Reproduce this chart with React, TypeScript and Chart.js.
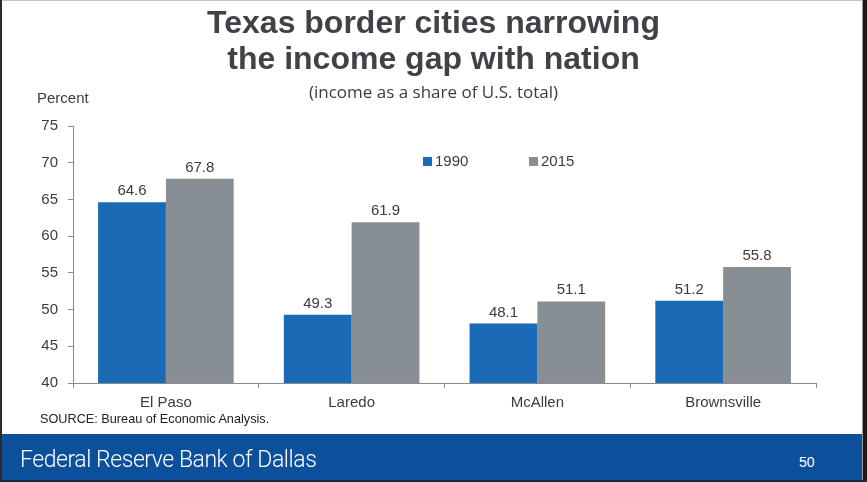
import React, { useEffect, useRef } from "react";
import { Chart, registerables } from "chart.js";

Chart.register(...registerables);

const categories = ["El Paso", "Laredo", "McAllen", "Brownsville"];
const values1990 = [64.6, 49.3, 48.1, 51.2];
const values2015 = [67.8, 61.9, 51.1, 55.8];
const seriesNames = ["1990", "2015"];
const yMin = 40;
const yMax = 75;
const yStep = 5;

const BLUE = "#1a6ab5";
const GRAY = "#878f94";
const TEXT = "#3c3c3c";
const FONT = "'Liberation Sans', Arial, sans-serif";

const valueLabelPlugin = {
  id: "valueLabels",
  afterDatasetsDraw(chart: any) {
    const ctx = chart.ctx;
    ctx.save();
    ctx.font = `15px ${FONT}`;
    ctx.fillStyle = TEXT;
    ctx.textAlign = "center";
    ctx.textBaseline = "alphabetic";
    chart.data.datasets.forEach((ds: any, di: number) => {
      const meta = chart.getDatasetMeta(di);
      meta.data.forEach((bar: any, i: number) => {
        ctx.fillText(ds.data[i].toFixed(1), bar.x, bar.y - 7);
      });
    });
    ctx.restore();
  },
};

const legendPlugin = {
  id: "customLegend",
  afterDraw(chart: any) {
    const ctx = chart.ctx;
    ctx.save();
    ctx.font = `15px ${FONT}`;
    ctx.textBaseline = "middle";
    ctx.textAlign = "left";
    const items = [
      { x: 423, color: BLUE, label: seriesNames[0] },
      { x: 529, color: GRAY, label: seriesNames[1] },
    ];
    const y = 162;
    items.forEach((it) => {
      ctx.fillStyle = it.color;
      ctx.fillRect(it.x, y - 5, 9, 9);
      ctx.fillStyle = TEXT;
      ctx.fillText(it.label, it.x + 12, y);
    });
    ctx.restore();
  },
};

function BarChart() {
  const ref = useRef<HTMLCanvasElement | null>(null);
  useEffect(() => {
    if (!ref.current) return;
    const chart = new Chart(ref.current, {
      type: "bar",
      data: {
        labels: categories,
        datasets: [
          {
            label: seriesNames[0],
            data: values1990,
            backgroundColor: BLUE,
            borderWidth: 0,
            categoryPercentage: 0.73,
            barPercentage: 1.0,
          },
          {
            label: seriesNames[1],
            data: values2015,
            backgroundColor: GRAY,
            borderWidth: 0,
            categoryPercentage: 0.73,
            barPercentage: 1.0,
          },
        ],
      },
      options: {
        responsive: false,
        animation: false,
        layout: { padding: { top: 126, right: 51, left: 0, bottom: 0 } },
        plugins: {
          legend: { display: false },
          tooltip: { enabled: false },
          title: { display: false },
        },
        scales: {
          x: {
            grid: {
              drawOnChartArea: false,
              drawTicks: true,
              tickLength: 5,
              color: "#8a8a8a",
              offset: true,
            },
            border: { color: "#8a8a8a", width: 1 },
            ticks: {
              font: { family: FONT, size: 15 },
              color: TEXT,
              padding: 6,
            },
            afterFit: (s: any) => {
              s.height = 51;
            },
          },
          y: {
            min: yMin,
            max: yMax,
            grid: {
              drawOnChartArea: false,
              drawTicks: true,
              tickLength: 5,
              color: "#8a8a8a",
            },
            border: { color: "#8a8a8a", width: 1 },
            ticks: {
              stepSize: yStep,
              font: { family: FONT, size: 15 },
              color: TEXT,
              padding: 10,
            },
            afterFit: (s: any) => {
              s.width = 73;
            },
          },
        },
      },
      plugins: [valueLabelPlugin, legendPlugin],
    });
    return () => chart.destroy();
  }, []);
  return (
    <canvas
      ref={ref}
      width={867}
      height={434}
      style={{ position: "absolute", left: 0, top: 0, width: 867, height: 434 }}
    />
  );
}

export default function App() {
  useEffect(() => {
    document.body.style.margin = "0";
  }, []);
  const abs = (s: React.CSSProperties): React.CSSProperties => ({ position: "absolute", ...s });
  return (
    <div style={{ position: "relative", width: 867, height: 482, background: "#fff", overflow: "hidden" }}>
      <BarChart />
      <div
        style={abs({
          left: 0,
          top: 4,
          width: 867,
          textAlign: "center",
          fontFamily: FONT,
          fontWeight: 700,
          fontSize: 32,
          lineHeight: "36px",
          color: "#3f4347",
        })}
      >
        Texas border cities narrowing
        <br />
        the income gap with nation
      </div>
      <div
        style={abs({
          left: 0,
          top: 80,
          width: 867,
          textAlign: "center",
          fontFamily: "'Open Sans', 'Noto Sans', sans-serif",
          fontSize: 17,
          color: "#3c3c3c",
        })}
      >
        (income as a share of U.S. total)
      </div>
      <div style={abs({ left: 37, top: 89, fontFamily: FONT, fontSize: 15, color: TEXT })}>Percent</div>
      <div style={abs({ left: 40, top: 412, fontFamily: FONT, fontSize: 12.7, color: "#222" })}>
        SOURCE: Bureau of Economic Analysis.
      </div>
      <div style={abs({ left: 0, top: 434, width: 867, height: 48, background: "#0c4f9b" })} />
      <div
        style={abs({
          left: 20,
          top: 446,
          fontFamily: "Roboto, 'Liberation Sans', sans-serif",
          fontWeight: 300,
          fontSize: 23,
          color: "#ffffff",
          letterSpacing: -0.45,
        })}
      >
        Federal Reserve Bank of Dallas
      </div>
      <div style={abs({ left: 799, top: 454, fontFamily: FONT, fontSize: 14, color: "#ffffff" })}>50</div>
      <div style={abs({ left: 0, top: 0, width: 867, height: 1, background: "#c4c4c4" })} />
      <div style={abs({ left: 0, top: 0, width: 2, height: 482, background: "#2a2a2a" })} />
      <div style={abs({ left: 862, top: 0, width: 1, height: 482, background: "#9a9a9a" })} />
      <div style={abs({ left: 863, top: 0, width: 4, height: 482, background: "#1a1a1a" })} />
      <div style={abs({ left: 0, top: 480, width: 867, height: 2, background: "#1e2a3a" })} />
    </div>
  );
}
